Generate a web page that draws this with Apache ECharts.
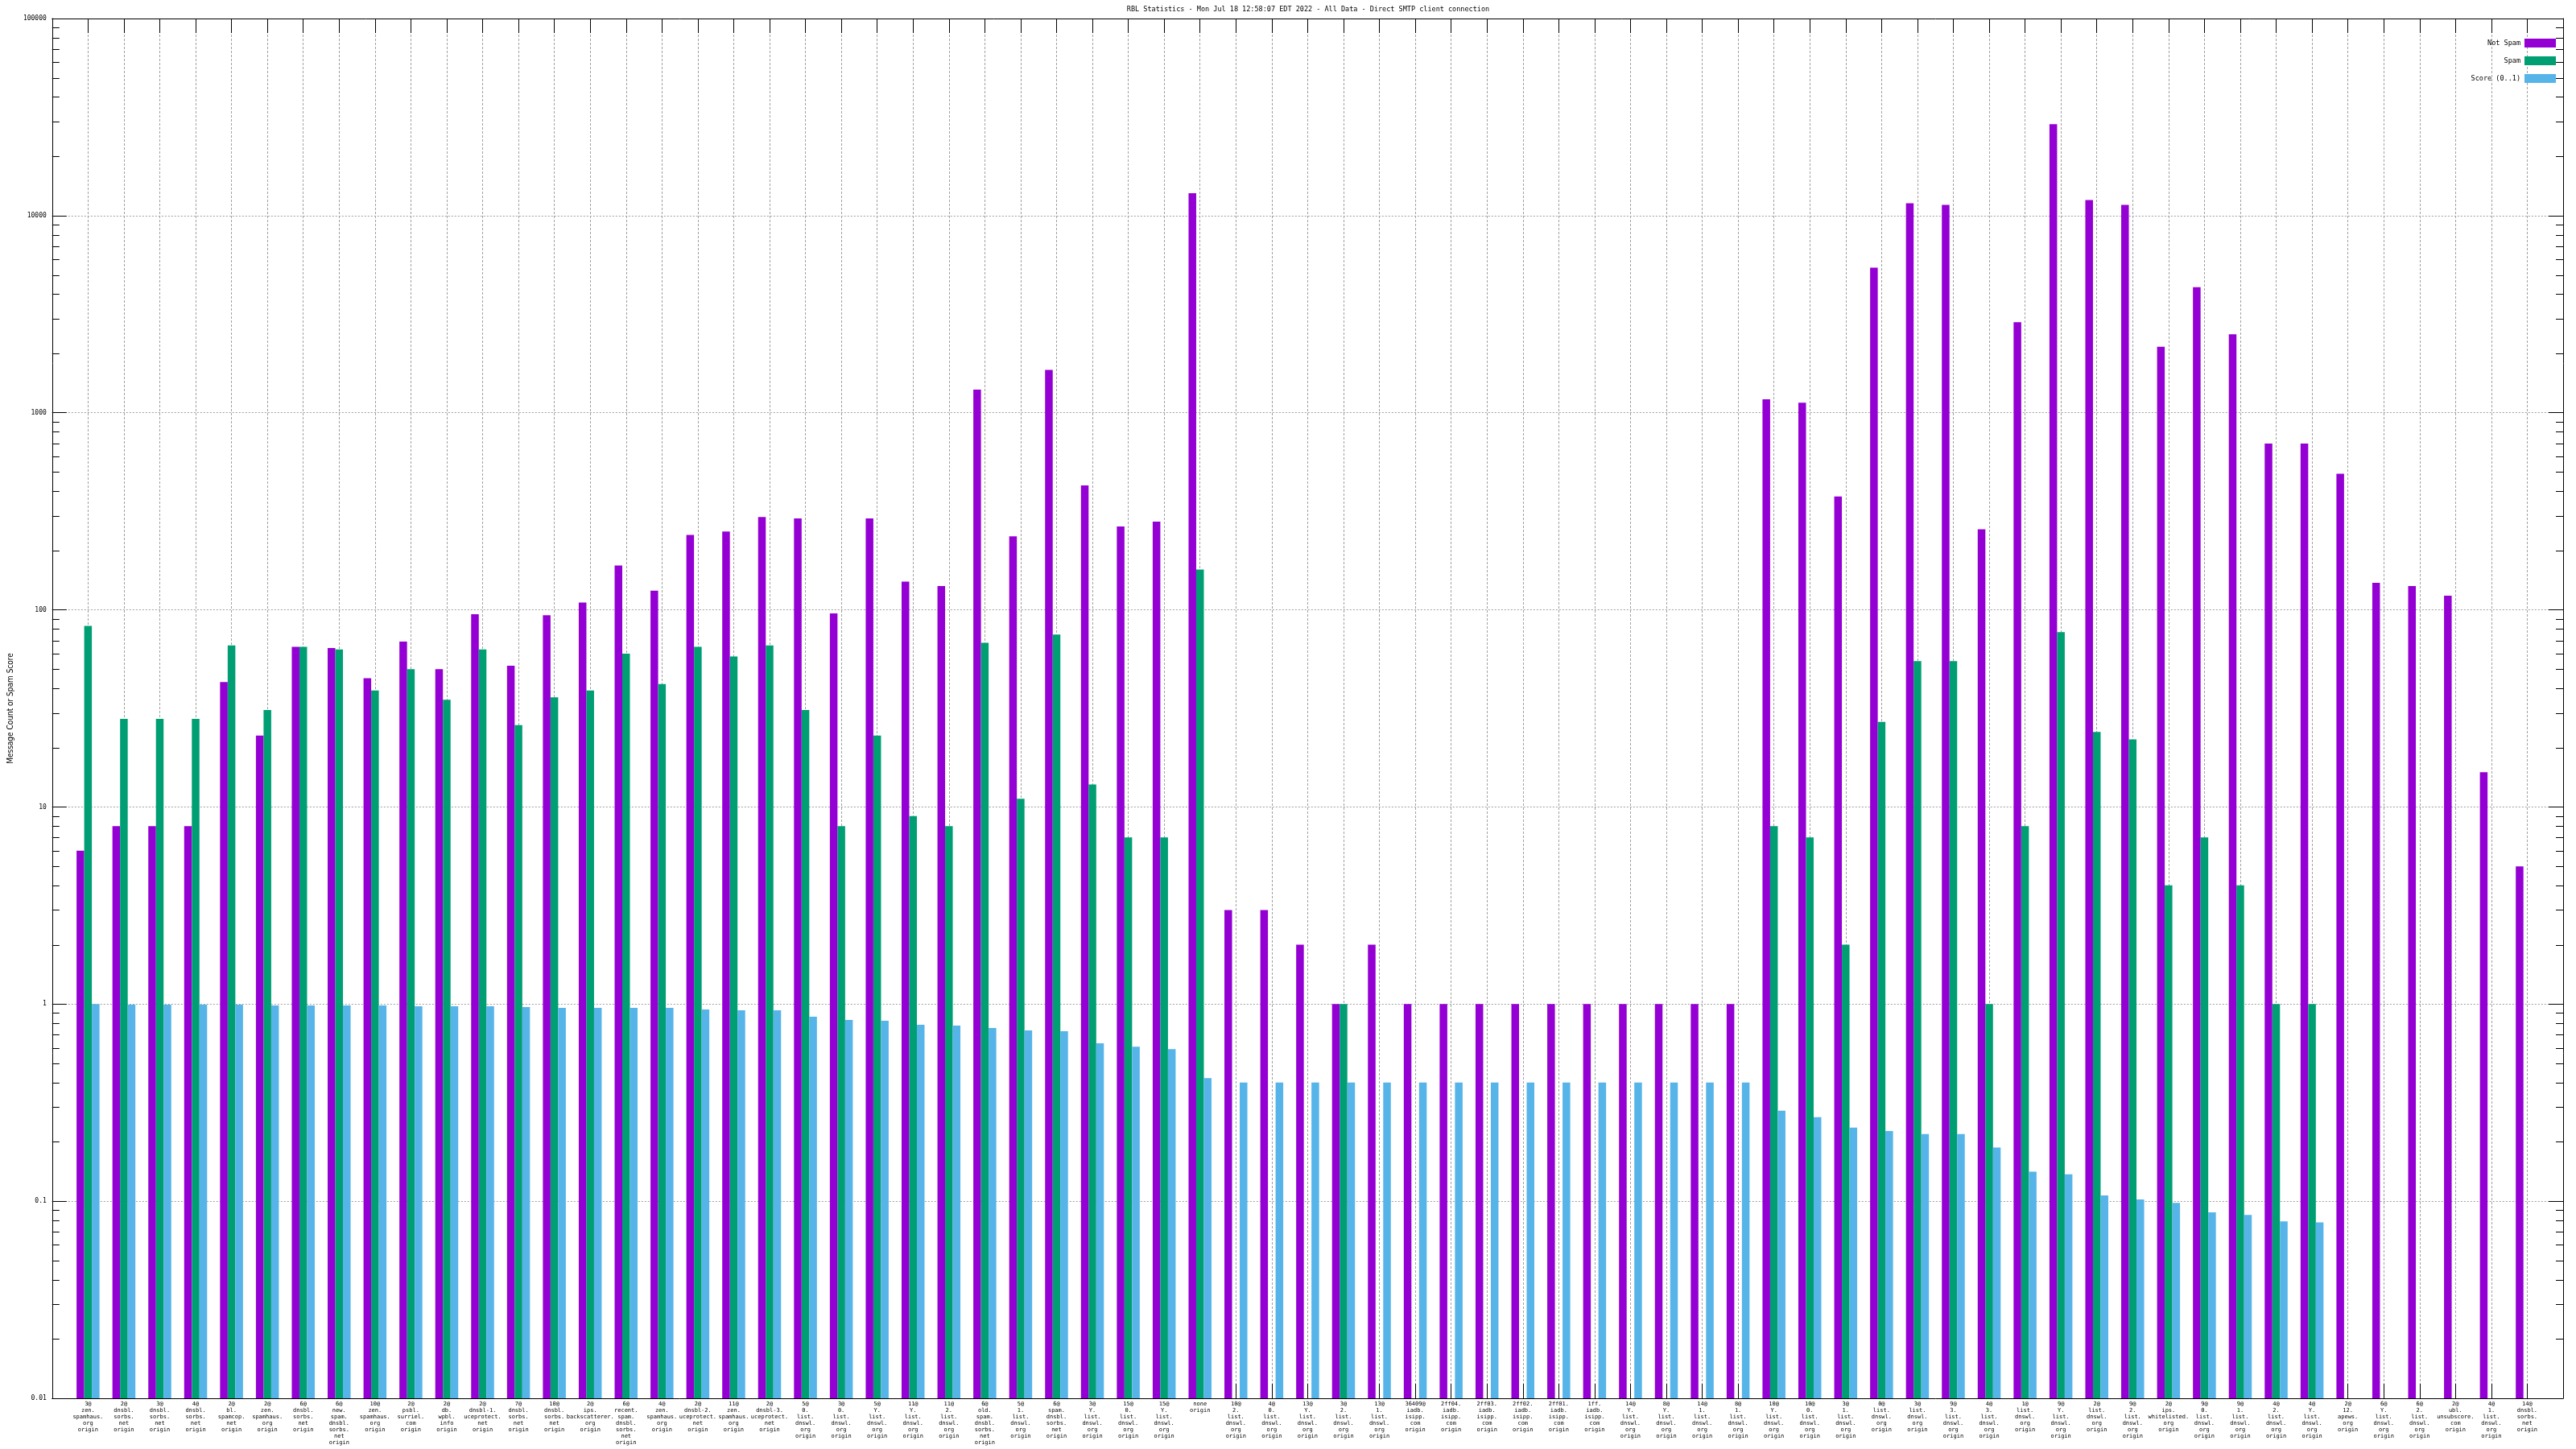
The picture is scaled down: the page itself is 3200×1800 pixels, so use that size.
<!DOCTYPE html>
<html><head><meta charset="utf-8">
<script src="https://cdn.jsdelivr.net/npm/echarts@6/dist/echarts.min.js"></script>
<style>html,body{margin:0;padding:0;background:#fff}#c{width:3200px;height:1800px}</style>
</head><body><div id="c"></div>
<script>
const titleText = 'RBL Statistics - Mon Jul 18 12:58:07 EDT 2022 - All Data - Direct SMTP client connection';
const categories = [
 '3@zen.spamhaus.org','2@dnsbl.sorbs.net','3@dnsbl.sorbs.net','4@dnsbl.sorbs.net','2@bl.spamcop.net',
 '2@zen.spamhaus.org','6@dnsbl.sorbs.net','6@new.spam.dnsbl.sorbs.net','10@zen.spamhaus.org','2@psbl.surriel.com',
 '2@db.wpbl.info','2@dnsbl-1.uceprotect.net','7@dnsbl.sorbs.net','10@dnsbl.sorbs.net','2@ips.backscatterer.org',
 '6@recent.spam.dnsbl.sorbs.net','4@zen.spamhaus.org','2@dnsbl-2.uceprotect.net','11@zen.spamhaus.org','2@dnsbl-3.uceprotect.net',
 '5@0.list.dnswl.org','3@0.list.dnswl.org','5@Y.list.dnswl.org','11@Y.list.dnswl.org','11@2.list.dnswl.org',
 '6@old.spam.dnsbl.sorbs.net','5@1.list.dnswl.org','6@spam.dnsbl.sorbs.net','3@Y.list.dnswl.org','15@0.list.dnswl.org',
 '15@Y.list.dnswl.org','none','10@2.list.dnswl.org','4@0.list.dnswl.org','13@Y.list.dnswl.org',
 '3@2.list.dnswl.org','13@1.list.dnswl.org','36409@iadb.isipp.com','2ff04.iadb.isipp.com','2ff03.iadb.isipp.com',
 '2ff02.iadb.isipp.com','2ff01.iadb.isipp.com','1ff.iadb.isipp.com','14@Y.list.dnswl.org','8@Y.list.dnswl.org',
 '14@1.list.dnswl.org','8@1.list.dnswl.org','10@Y.list.dnswl.org','10@0.list.dnswl.org','3@1.list.dnswl.org',
 '0@list.dnswl.org','3@list.dnswl.org','9@3.list.dnswl.org','4@3.list.dnswl.org','1@list.dnswl.org',
 '9@Y.list.dnswl.org','2@list.dnswl.org','9@2.list.dnswl.org','2@ips.whitelisted.org','9@0.list.dnswl.org',
 '9@1.list.dnswl.org','4@2.list.dnswl.org','4@Y.list.dnswl.org','2@12.apews.org','6@Y.list.dnswl.org',
 '6@2.list.dnswl.org','2@ubl.unsubscore.com','4@1.list.dnswl.org','14@dnsbl.sorbs.net'
];
const notSpam = [
 6,8,8,8,43, 23,65,64,45,69, 50,95,52,94,109, 168,125,240,250,296,
 291,96,291,139,132, 1310,236,1650,428,265, 280,13000,3,3,2,
 1,2,1,1,1, 1,1,1,1,1, 1,1,1170,1125,376,
 5450,11550,11350,256,2880, 29100,12000,11350,2160,4330, 2500,697,697,490,137,
 132,118,15,5
];
const spam = [
 83,28,28,28,66, 31,65,63,39,50, 35,63,26,36,39, 60,42,65,58,66,
 31,8,23,9,8, 68,11,75,13,7, 7,160,null,null,null,
 1,null,null,null,null, null,null,null,null,null, null,null,8,7,2,
 27,55,55,1,8, 77,24,22,4,7, 4,1,1,null,null,
 null,null,null,null
];
const score = [
 1.0,0.994,0.994,0.994,0.994, 0.984,0.984,0.984,0.984,0.975, 0.975,0.975,0.966,0.957,0.957, 0.957,0.957,0.939,0.930,0.930,
 0.863,0.831,0.823,0.785,0.777, 0.756,0.735,0.728,0.632,0.608, 0.591,0.421,0.4,0.4,0.4,
 0.4,0.4,0.4,0.4,0.4, 0.4,0.4,0.4,0.4,0.4, 0.4,0.4,0.288,0.267,0.236,
 0.227,0.219,0.219,0.187,0.141, 0.137,0.107,0.102,0.098,0.0877, 0.0852,0.079,0.078,null,null,
 null,null,null,null
];
const seriesNames = ['Not Spam','Spam','Score (0..1)'];
const seriesColors = ['#9400D3','#009E73','#56B4E9'];
const yTickLabels = ['0.01','0.1','1','10','100','1000','10000','100000'];
const minorMultipliers = [2,3,4,5,6,7,8,9];

// padded axis: one empty slot on each side (x range -1 .. 69)
const axisCats = [''].concat(categories, ['']);
const pad = a => [null].concat(a, [null]);
const minorTicks = [];
for (let d = 0; d < yTickLabels.length - 1; d++) {
  const base = parseFloat(yTickLabels[d]);
  minorMultipliers.forEach(m => minorTicks.push([0, base * m]));
}
function fmtCat(v) {
  if (!v) return '';
  return (v + ' origin').replace(/@/g, '@\n').replace(/\./g, '.\n').replace(/ /g, '\n');
}
const mono = 'DejaVu Sans Mono';
const gridCol = '#a0a0a0';
const yMin = parseFloat(yTickLabels[0]);
const yMax = parseFloat(yTickLabels[yTickLabels.length - 1]);
const BAR_W = 9.5;

// bars drawn from the axis floor (yMin) through the library's coordinate system
function barSeries(idx, values) {
  return {
    name: seriesNames[idx], type: 'custom', clip: true,
    itemStyle: {color: seriesColors[idx]},
    data: pad(values).map((v, i) => [i, v == null ? '-' : v]),
    encode: {x: 0, y: 1},
    renderItem: (params, api) => {
      const v = api.value(1);
      if (v == null || isNaN(v)) return null;
      const i = api.value(0);
      const top = api.coord([i, v]);
      const bot = api.coord([i, yMin]);
      const cx = top[0] + (idx - 1) * BAR_W;
      return {
        type: 'rect',
        shape: {x: cx - BAR_W / 2, y: top[1], width: BAR_W, height: bot[1] - top[1]},
        style: {fill: seriesColors[idx]}
      };
    }
  };
}

const chart = echarts.init(document.getElementById('c'), null, {renderer: 'canvas'});
chart.setOption({
  animation: false,
  backgroundColor: '#fff',
  title: {
    text: titleText, left: 1620, top: 2, textAlign: 'center',
    textStyle: {fontFamily: mono, fontSize: 8.5, fontWeight: 'normal', color: '#000'}
  },
  legend: {
    data: seriesNames, orient: 'vertical', right: 20, top: 43, align: 'right',
    itemWidth: 39, itemHeight: 11, itemGap: 11, icon: 'rect',
    textStyle: {fontFamily: mono, fontSize: 8.5, color: '#000'}
  },
  grid: {left: 56, right: 16, top: 23, bottom: 63, containLabel: false},
  xAxis: [{
    type: 'category', data: axisCats, boundaryGap: false, position: 'bottom',
    axisLine: {onZero: false, lineStyle: {color: '#000', width: 1}},
    axisTick: {show: true, inside: true, length: 18, interval: 0, lineStyle: {color: '#000', width: 1}},
    axisLabel: {interval: 0, formatter: fmtCat, fontFamily: mono, fontSize: 7, lineHeight: 8, color: '#000', margin: 3},
    splitLine: {show: true, interval: 0, lineStyle: {color: gridCol, type: [3, 2], width: 1}}
  }, {
    type: 'category', data: axisCats, boundaryGap: false, position: 'top',
    axisLine: {onZero: false, lineStyle: {color: '#000', width: 1}},
    axisTick: {show: true, inside: true, length: 18, interval: 0, lineStyle: {color: '#000', width: 1}},
    axisLabel: {show: false}, splitLine: {show: false}
  }],
  yAxis: [{
    type: 'log', logBase: 10, min: yMin, max: yMax, splitNumber: 7, position: 'left',
    name: 'Message Count or Spam Score', nameLocation: 'middle', nameGap: 44, nameRotate: 90,
    nameTextStyle: {fontFamily: 'DejaVu Sans Condensed', fontSize: 10, color: '#000'},
    axisLine: {show: true, lineStyle: {color: '#000', width: 1}},
    axisTick: {show: true, inside: true, length: 18, lineStyle: {color: '#000', width: 1}},
    axisLabel: {
      fontFamily: mono, fontSize: 8, color: '#000', margin: 7,
      formatter: v => yTickLabels[Math.round(Math.log10(v)) + 2] || ''
    },
    splitLine: {show: true, lineStyle: {color: gridCol, type: [2, 2], width: 1}}
  }, {
    type: 'log', logBase: 10, min: yMin, max: yMax, splitNumber: 7, position: 'right',
    axisLine: {show: true, lineStyle: {color: '#000', width: 1}},
    axisTick: {show: true, inside: true, length: 18, lineStyle: {color: '#000', width: 1}},
    axisLabel: {show: false}, splitLine: {show: false}
  }],
  series: [
    barSeries(0, notSpam),
    barSeries(1, spam),
    barSeries(2, score),
    {
      name: 'minor', type: 'custom', silent: true, clip: false, z: 10,
      data: minorTicks, encode: {x: 0, y: 1},
      renderItem: (params, api) => {
        const v = api.value(1);
        const l = api.coord([0, v]);
        const r = api.coord([axisCats.length - 1, v]);
        const y = Math.round(l[1]) + 0.5;
        return {type: 'group', children: [
          {type: 'line', shape: {x1: l[0], y1: y, x2: l[0] + 9, y2: y}, style: {stroke: '#000', lineWidth: 1}},
          {type: 'line', shape: {x1: r[0] - 9, y1: y, x2: r[0], y2: y}, style: {stroke: '#000', lineWidth: 1}}
        ]};
      }
    }
  ]
});
</script></body></html>
